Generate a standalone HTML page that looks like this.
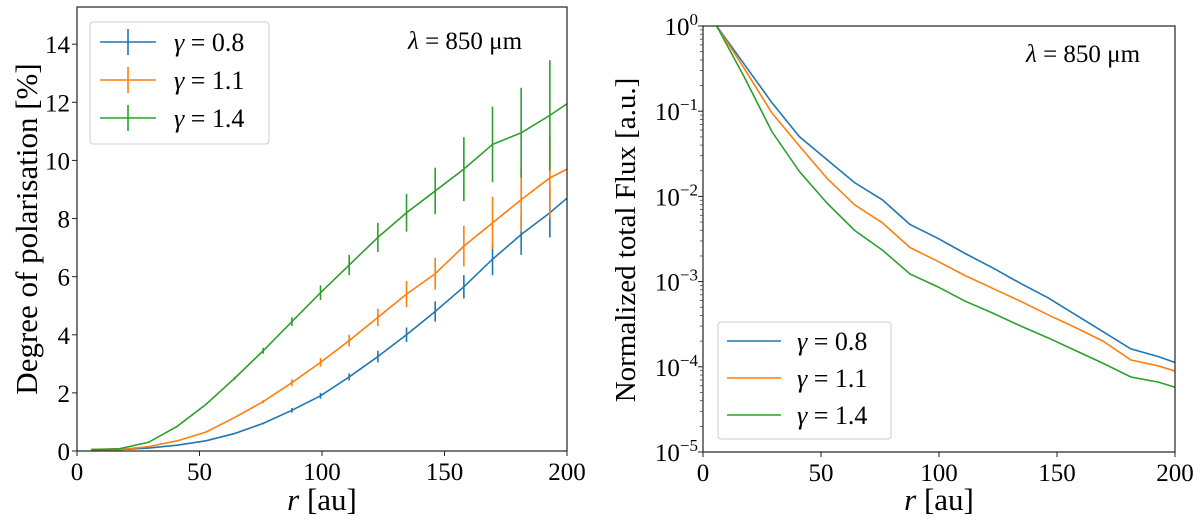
<!DOCTYPE html>
<html><head><meta charset="utf-8">
<style>
html,body{margin:0;padding:0;background:#fff;}
svg, svg text{font-family:"Liberation Serif","DejaVu Serif",serif;}
svg{display:block;}
</style></head>
<body>
<svg id="fig" width="1200" height="523" viewBox="0 0 1200 523" xmlns="http://www.w3.org/2000/svg" font-family="Liberation Serif, DejaVu Serif, serif">
<g id="left"></g>
<g id="right"></g>
</svg>
<script>
// ---- data ----
const radii = [5.8,17.5,29.2,40.9,52.6,64.3,76,87.7,99.4,111.1,122.8,134.5,146.2,157.9,169.6,181.3,193,200];
const seriesNames = ["γ = 0.8","γ = 1.1","γ = 1.4"];
const polBlue   = [0.05,0.05,0.1,0.2,0.35,0.6,0.95,1.4,1.9,2.55,3.25,4.0,4.8,5.65,6.6,7.45,8.2,8.7];
const polOrange = [0.05,0.05,0.15,0.35,0.65,1.15,1.7,2.35,3.05,3.8,4.6,5.4,6.1,7.05,7.85,8.65,9.4,9.7];
const polGreen  = [0.05,0.08,0.3,0.85,1.6,2.5,3.45,4.45,5.45,6.4,7.35,8.2,8.95,9.7,10.55,10.95,11.55,11.95];
const errBlue   = [0,0,0,0,0,0,0.03,0.08,0.1,0.12,0.2,0.25,0.35,0.4,0.55,0.7,0.85,0];
const errOrange = [0,0,0,0,0,0,0.05,0.12,0.15,0.2,0.3,0.45,0.55,0.7,0.9,1.1,1.4,0];
const errGreen  = [0,0,0,0,0,0.05,0.1,0.15,0.25,0.35,0.5,0.65,0.8,1.1,1.3,1.55,1.9,0];
const fluxLogBlue   = [0,-0.45,-0.9,-1.3,-1.57,-1.84,-2.04,-2.33,-2.49,-2.67,-2.84,-3.02,-3.19,-3.39,-3.59,-3.79,-3.88,-3.95];
const fluxLogOrange = [0,-0.5,-1.02,-1.41,-1.79,-2.1,-2.31,-2.6,-2.76,-2.93,-3.08,-3.23,-3.39,-3.54,-3.7,-3.92,-3.99,-4.05];
const fluxLogGreen  = [0,-0.6,-1.24,-1.71,-2.08,-2.4,-2.63,-2.91,-3.06,-3.23,-3.37,-3.52,-3.66,-3.81,-3.96,-4.12,-4.18,-4.24];
const xTicks = [0,50,100,150,200];
const polTicks = [0,2,4,6,8,10,12,14];
const fluxTickExps = [0,-1,-2,-3,-4,-5];
const colors = ["#1f77b4","#ff7f0e","#2ca02c"];

const NS="http://www.w3.org/2000/svg";
const FF='"Liberation Serif","DejaVu Serif",serif';
function mk(parent,tag,attrs,text){const e=document.createElementNS(NS,tag);for(const k in attrs)e.setAttribute(k,attrs[k]);if(tag==='text')e.style.fontFamily=FF;if(text!==undefined)e.textContent=text;parent.appendChild(e);return e;}

// ---- left panel ----
const L=document.getElementById('left');
const lx0=77,lx1=567,ly0=451,ly1=7,lymax=15.28;
const lxs=v=>lx0+(v/200)*(lx1-lx0);
const lys=v=>ly0-(v/lymax)*(ly0-ly1);
const pols=[polBlue,polOrange,polGreen], errs=[errBlue,errOrange,errGreen];
pols.forEach((s,i)=>{
  const pl=mk(L,'polyline',{points:radii.map((r,j)=>lxs(r)+','+lys(s[j])).join(' '),fill:'none',stroke:colors[i],'stroke-width':1.6});
  
  
  radii.forEach((r,j)=>{ if(errs[i][j]>0){
    const eb=mk(L,'line',{x1:lxs(r),x2:lxs(r),y1:lys(s[j]-errs[i][j]),y2:lys(s[j]+errs[i][j]),stroke:colors[i],'stroke-width':1.6});
    
    
  }});
});
mk(L,'rect',{x:lx0,y:ly1,width:lx1-lx0,height:ly0-ly1,fill:'none',stroke:'#222','stroke-width':1.2,});
xTicks.forEach(t=>{
  mk(L,'line',{x1:lxs(t),x2:lxs(t),y1:ly0,y2:ly0+5,stroke:'#222'});
  const tx=mk(L,'text',{x:lxs(t),y:ly0+29,'font-size':25,'text-anchor':'middle'},String(t));
  
  
});
polTicks.forEach(t=>{
  mk(L,'line',{x1:lx0-5,x2:lx0,y1:lys(t),y2:lys(t),stroke:'#222'});
  const tx=mk(L,'text',{x:lx0-7,y:lys(t)+9,'font-size':25,'text-anchor':'end'},String(t));
  
  
});
const lxt=mk(L,'text',{x:322,y:510,'font-size':31,'text-anchor':'middle',});
lxt.innerHTML='<tspan font-style="italic">r</tspan> [au]';
mk(L,'text',{transform:'translate(37,229) rotate(-90)','font-size':31,'text-anchor':'middle',},'Degree of polarisation [%]');
const llam=mk(L,'text',{x:408,y:49,'font-size':25,});
llam.innerHTML='<tspan font-style="italic">λ</tspan> = 850 μm';
mk(L,'rect',{x:90,y:22,width:179,height:122,rx:3,fill:'#fff','fill-opacity':0.8,stroke:'#ccc',});
[42,80,118].forEach((y,i)=>{
  mk(L,'line',{x1:100,x2:156,y1:y,y2:y,stroke:colors[i],'stroke-width':1.6});
  mk(L,'line',{x1:128,x2:128,y1:y-13,y2:y+13,stroke:colors[i],'stroke-width':1.6});
  const lt=mk(L,'text',{x:174,y:y+9,'font-size':26},'');
  lt.innerHTML='<tspan font-style="italic">γ</tspan>'+seriesNames[i].slice(1);
  
  
});

// ---- right panel ----
const R=document.getElementById('right');
const rx0=703,rx1=1175,ry0=452,ry1=26;
const rxs=v=>rx0+(v/200)*(rx1-rx0);
const rys=lg=>ry1+(-lg/5)*(ry0-ry1);
const fluxes=[fluxLogBlue,fluxLogOrange,fluxLogGreen];
fluxes.forEach((s,i)=>{
  const pl=mk(R,'polyline',{points:radii.map((r,j)=>rxs(r)+','+rys(s[j])).join(' '),fill:'none',stroke:colors[i],'stroke-width':1.6});
  
  
});
mk(R,'rect',{x:rx0,y:ry1,width:rx1-rx0,height:ry0-ry1,fill:'none',stroke:'#222','stroke-width':1.2,});
xTicks.forEach(t=>{
  mk(R,'line',{x1:rxs(t),x2:rxs(t),y1:ry0,y2:ry0+5,stroke:'#222'});
  const tx=mk(R,'text',{x:rxs(t),y:ry0+29,'font-size':25,'text-anchor':'middle'},String(t));
  
  
});
fluxTickExps.forEach(e=>{
  mk(R,'line',{x1:rx0-5,x2:rx0,y1:rys(e),y2:rys(e),stroke:'#222'});
  if(e>-5){for(let m=2;m<10;m++){const yy=rys(e-1+Math.log10(m));mk(R,'line',{x1:rx0-3,x2:rx0,y1:yy,y2:yy,stroke:'#444','stroke-width':0.8});}}
  const tx=mk(R,'text',{x:rx0-5,y:rys(e)+9,'font-size':25,'text-anchor':'end'},'');
  tx.innerHTML='10<tspan dy="-10" font-size="17">'+(e===0?'0':'−'+(-e))+'</tspan>';
  
  
});
const rxt=mk(R,'text',{x:939,y:510,'font-size':31,'text-anchor':'middle',});
rxt.innerHTML='<tspan font-style="italic">r</tspan> [au]';
mk(R,'text',{transform:'translate(635,240) rotate(-90)','font-size':29,'text-anchor':'middle',},'Normalized total Flux [a.u.]');
const rlam=mk(R,'text',{x:1026,y:62,'font-size':25,});
rlam.innerHTML='<tspan font-style="italic">λ</tspan> = 850 μm';
mk(R,'rect',{x:718,y:322,width:173,height:117,rx:3,fill:'#fff','fill-opacity':0.8,stroke:'#ccc',});
[341,378,415].forEach((y,i)=>{
  mk(R,'line',{x1:727,x2:781,y1:y,y2:y,stroke:colors[i],'stroke-width':1.6});
  const lt=mk(R,'text',{x:797,y:y+9,'font-size':26},'');
  lt.innerHTML='<tspan font-style="italic">γ</tspan>'+seriesNames[i].slice(1);
  
  
});
</script>
</body></html>
